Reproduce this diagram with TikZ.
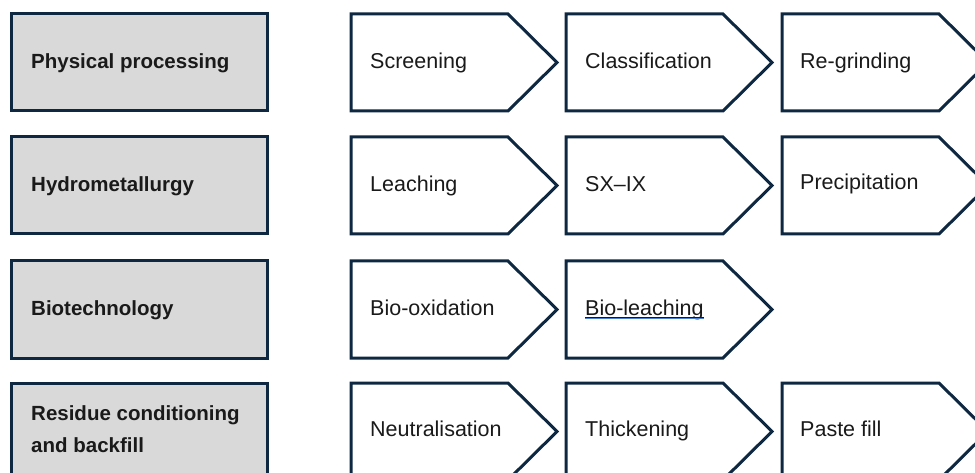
\documentclass[tikz,border=0pt]{standalone}
\usepackage{fontspec}
\setmainfont{Liberation Sans}
\usetikzlibrary{calc}
\definecolor{edgecol}{HTML}{0E2841}
\definecolor{grayfill}{HTML}{D9D9D9}
\definecolor{txtcol}{HTML}{1A1A1A}
\definecolor{linkblue}{HTML}{4A7FD6}
\tikzset{
  catbox/.style={draw=edgecol, fill=grayfill, line width=3pt},
  chev/.style={draw=edgecol, fill=white, line width=3pt, line join=miter},
  catlabel/.style={anchor=base west, font=\fontsize{20.5}{32}\selectfont\bfseries, inner sep=0pt, align=left, text=txtcol},
  steplabel/.style={anchor=base west, font=\fontsize{21.5}{26}\selectfont, inner sep=0pt, text=txtcol}
}
\newcommand\chevronat[2]{\draw[chev] (#1,#2) -- ++(157,0) -- ++(49,48.5) -- ++(-49,48.5) -- ++(-157,0) -- cycle;}
\newcommand\catboxat[2]{\draw[catbox] (#1,#2) rectangle ++(256,97);}
\begin{document}
\begin{tikzpicture}[x=1pt,y=-1pt]
\useasboundingbox (0,0) rectangle (975,473);
\clip (0,0) rectangle (975,473);
% category boxes
\catboxat{11}{14}
\catboxat{11}{137}
\catboxat{11}{261}
\catboxat{11}{383}
\node[catlabel] (c1) at (31,69) {Physical processing};
\node[catlabel] (c2) at (31,192) {Hydrometallurgy};
\node[catlabel] (c3) at (31,316) {Biotechnology};
\node[catlabel] (c4) at (31,452) {Residue conditioning\\and backfill};
% row 1
\chevronat{351}{14}
\chevronat{566}{14}
\chevronat{782}{14}
\node[steplabel] (s11) at (370,69) {Screening};
\node[steplabel] (s12) at (585,69) {Classification};
\node[steplabel] (s13) at (800,69) {Re-grinding};
% row 2
\chevronat{351}{137}
\chevronat{566}{137}
\chevronat{782}{137}
\node[steplabel] (s21) at (370,192) {Leaching};
\node[steplabel] (s22) at (585,192) {SX–IX};
\node[steplabel] (s23) at (800,190) {Precipitation};
% row 3
\chevronat{351}{261}
\chevronat{566}{261}
\node[steplabel] (s31) at (370,315) {Bio-oxidation};
\node[steplabel] (s32) at (585,315) {Bio-leaching};
\draw[txtcol, line width=0.9pt] ($(s32.base west)+(0,2.2)$) -- ($(s32.base east)+(0,2.2)$);
\draw[linkblue, line width=1pt] ($(s32.base west)+(0,3.6)$) -- ($(s32.base east)+(0,3.6)$);
% row 4
\chevronat{351}{383}
\chevronat{566}{383}
\chevronat{782}{383}
\node[steplabel] (s41) at (370,436) {Neutralisation};
\node[steplabel] (s42) at (585,436) {Thickening};
\node[steplabel] (s43) at (800,436) {Paste fill};
\end{tikzpicture}
\end{document}
